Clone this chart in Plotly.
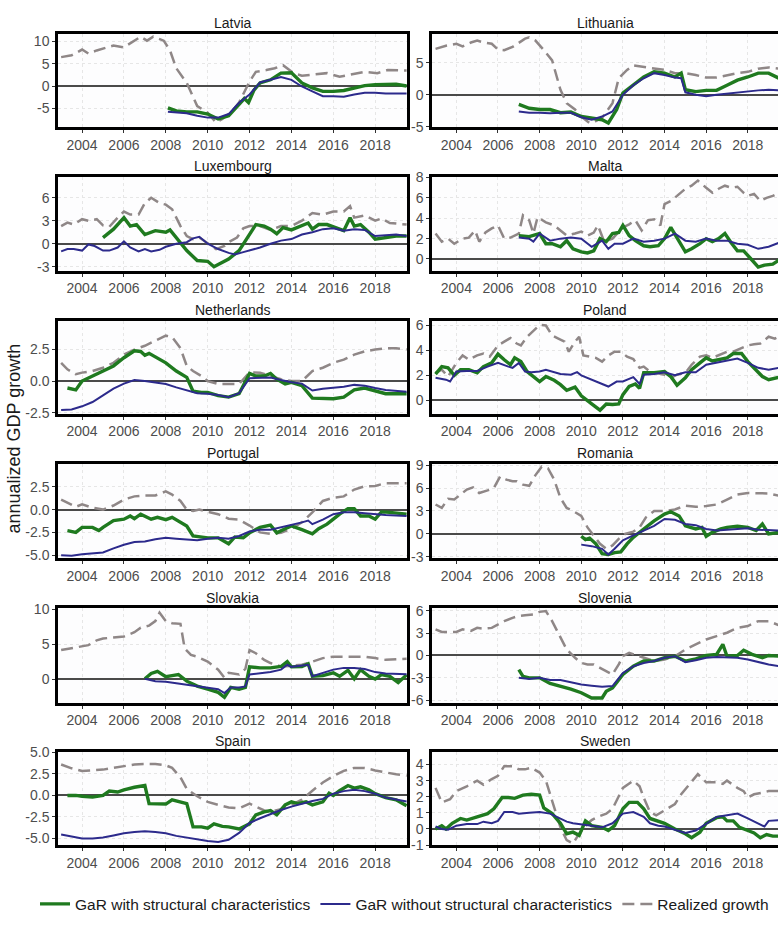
import plotly.graph_objects as go

# ---------------- data (year, annualized GDP growth) ----------------
LATVIA_REAL = [(2003.0, 6.5), (2003.5, 6.9), (2004.0, 8.2), (2004.3, 7.3), (2004.7, 8.0), (2005.0, 8.4), (2005.5, 9.1), (2006.0, 8.7), (2006.8, 11.1), (2007.1, 10.2), (2007.4, 11.1), (2007.9, 10.2), (2008.2, 8.0), (2008.5, 4.0), (2009.0, 0.7), (2009.5, -4.5), (2010.0, -6.0), (2010.4, -8.2), (2010.7, -7.4), (2011.1, -6.0), (2011.5, -3.7), (2012.0, 1.0), (2012.3, 3.2), (2012.8, 3.6), (2013.2, 4.0), (2013.6, 4.7), (2014.1, 2.9), (2014.5, 2.3), (2015.0, 2.5), (2015.7, 2.9), (2016.3, 2.1), (2016.8, 2.5), (2017.5, 3.2), (2018.1, 2.9), (2018.6, 3.6), (2019.5, 3.5)]
LATVIA_GAR_WITH = [(2008.1, -4.9), (2008.5, -5.6), (2009.0, -5.8), (2009.5, -5.8), (2010.0, -6.3), (2010.5, -7.4), (2011.0, -6.7), (2011.5, -4.1), (2011.75, -2.8), (2011.95, -3.7), (2012.2, -1.0), (2012.5, 0.7), (2013.0, 1.4), (2013.5, 2.9), (2014.0, 3.0), (2014.5, 0.7), (2015.0, -0.4), (2015.5, -1.2), (2016.0, -1.2), (2016.5, -1.0), (2017.0, -0.4), (2017.5, 0.1), (2018.0, 0.3), (2018.5, 0.3), (2019.0, 0.4), (2019.5, 0.0)]
LATVIA_GAR_WITHOUT = [(2008.1, -5.8), (2008.5, -6.0), (2009.0, -6.1), (2009.5, -6.7), (2010.0, -7.1), (2010.5, -7.1), (2011.0, -6.3), (2011.5, -3.75), (2012.0, -1.9), (2012.5, 0.8), (2013.0, 1.4), (2013.5, 2.0), (2014.0, 1.4), (2014.5, -0.1), (2015.0, -1.2), (2015.5, -2.3), (2016.0, -2.3), (2016.5, -2.4), (2017.0, -1.9), (2017.5, -1.5), (2018.0, -1.5), (2018.5, -1.7), (2019.5, -1.7)]

LITHUANIA_REAL = [(2003.0, 7.2), (2003.5, 7.7), (2004.0, 8.0), (2004.3, 7.6), (2004.7, 8.2), (2005.0, 8.5), (2005.3, 8.2), (2005.7, 8.0), (2006.0, 7.1), (2006.3, 7.0), (2006.7, 7.5), (2007.0, 8.2), (2007.3, 8.8), (2007.5, 9.0), (2007.8, 8.5), (2008.2, 7.0), (2008.6, 5.4), (2009.0, 0.8), (2009.3, -1.3), (2009.7, -2.3), (2010.0, -3.4), (2010.4, -4.4), (2010.7, -4.1), (2011.0, -3.6), (2011.5, -1.3), (2011.8, 2.6), (2012.2, 3.9), (2012.5, 4.6), (2013.0, 4.4), (2013.5, 4.1), (2014.0, 3.9), (2014.5, 3.4), (2015.0, 3.4), (2015.5, 3.1), (2016.0, 2.7), (2016.5, 2.7), (2017.0, 3.1), (2017.5, 3.4), (2018.0, 3.6), (2018.5, 4.1), (2019.0, 4.3), (2019.5, 4.1)]
LITHUANIA_GAR_WITH = [(2007.0, -1.5), (2007.5, -2.1), (2008.0, -2.3), (2008.5, -2.3), (2009.0, -2.8), (2009.5, -2.7), (2010.0, -3.4), (2010.5, -3.6), (2011.0, -3.9), (2011.3, -4.4), (2011.7, -2.3), (2012.0, 0.3), (2012.5, 1.5), (2013.0, 2.8), (2013.5, 3.6), (2014.0, 3.4), (2014.5, 2.8), (2014.8, 3.4), (2015.0, 0.8), (2015.5, 0.5), (2016.0, 0.7), (2016.5, 0.7), (2017.0, 1.5), (2017.5, 2.3), (2018.0, 2.8), (2018.5, 3.4), (2019.0, 3.4), (2019.5, 2.6)]
LITHUANIA_GAR_WITHOUT = [(2007.0, -2.6), (2007.5, -2.8), (2008.0, -2.8), (2008.5, -2.9), (2009.0, -2.8), (2009.5, -2.8), (2010.0, -3.5), (2010.5, -3.9), (2011.0, -3.4), (2011.5, -2.6), (2012.0, 0.0), (2012.5, 1.5), (2013.0, 2.6), (2013.5, 3.4), (2014.0, 3.1), (2014.5, 2.7), (2014.8, 2.6), (2015.0, 0.4), (2015.5, 0.0), (2016.0, -0.2), (2016.5, 0.0), (2017.0, 0.2), (2017.5, 0.4), (2018.0, 0.5), (2018.5, 0.7), (2019.0, 0.8), (2019.5, 0.7)]

LUXEMBOURG_REAL = [(2003.0, 2.3), (2003.3, 2.75), (2003.6, 2.5), (2004.0, 3.2), (2004.3, 3.0), (2004.7, 3.2), (2005.0, 2.4), (2005.3, 2.2), (2005.7, 3.4), (2006.0, 4.2), (2006.3, 3.8), (2006.7, 3.8), (2007.0, 5.3), (2007.3, 6.0), (2007.7, 5.3), (2008.0, 5.1), (2008.3, 4.5), (2008.7, 2.3), (2009.0, 1.0), (2009.3, 0.6), (2009.6, 0.8), (2010.0, 0.0), (2010.4, -0.7), (2010.8, -0.3), (2011.0, 0.2), (2011.4, 0.8), (2011.7, 2.0), (2012.0, 2.3), (2012.5, 2.3), (2013.0, 1.8), (2013.5, 2.3), (2014.0, 2.3), (2014.5, 3.0), (2015.0, 4.0), (2015.5, 3.8), (2016.0, 4.2), (2016.5, 4.2), (2016.8, 4.9), (2017.0, 3.4), (2017.5, 3.7), (2018.0, 3.0), (2018.3, 3.3), (2018.7, 2.7), (2019.5, 2.5)]
LUXEMBOURG_GAR_WITH = [(2005.0, 0.8), (2005.5, 1.9), (2006.0, 3.4), (2006.3, 2.3), (2006.6, 2.5), (2007.0, 1.2), (2007.5, 1.7), (2008.0, 1.5), (2008.2, 1.8), (2008.6, 0.4), (2009.0, -0.9), (2009.5, -2.2), (2010.0, -2.3), (2010.3, -3.0), (2010.6, -2.6), (2011.0, -2.0), (2011.5, -0.9), (2012.0, 1.2), (2012.3, 2.5), (2012.7, 2.3), (2013.0, 1.9), (2013.3, 1.3), (2013.6, 2.1), (2014.0, 1.8), (2014.4, 2.3), (2014.8, 2.7), (2015.0, 1.9), (2015.3, 2.5), (2015.7, 2.5), (2016.0, 2.2), (2016.5, 1.7), (2016.8, 3.4), (2017.0, 2.3), (2017.3, 2.5), (2017.7, 1.5), (2018.0, 0.6), (2018.5, 0.8), (2019.0, 1.0), (2019.5, 1.0)]
LUXEMBOURG_GAR_WITHOUT = [(2003.0, -1.0), (2003.3, -0.7), (2003.6, -0.7), (2004.0, -0.9), (2004.3, -0.1), (2004.6, -0.3), (2005.0, -0.9), (2005.3, -0.9), (2005.7, -0.5), (2006.0, 0.3), (2006.3, -0.5), (2006.7, -1.0), (2007.0, -0.7), (2007.3, -1.0), (2007.7, -0.8), (2008.0, -0.4), (2008.5, 0.0), (2009.0, 0.2), (2009.3, 0.7), (2009.6, 0.9), (2010.0, 0.0), (2010.5, -0.7), (2011.0, -1.2), (2011.3, -1.4), (2011.7, -1.1), (2012.0, -0.9), (2012.5, -0.5), (2013.0, 0.0), (2013.5, 0.4), (2014.0, 0.6), (2014.5, 1.2), (2015.0, 1.5), (2015.5, 1.9), (2016.0, 2.0), (2016.5, 1.7), (2017.0, 1.9), (2017.5, 1.8), (2018.0, 1.0), (2018.5, 1.1), (2019.0, 1.2), (2019.5, 1.0)]

MALTA_REAL = [(2003.0, 2.5), (2003.3, 1.7), (2003.6, 2.0), (2003.9, 1.5), (2004.3, 2.0), (2004.6, 2.1), (2004.9, 2.8), (2005.1, 1.7), (2005.4, 2.6), (2005.7, 3.0), (2006.0, 3.3), (2006.3, 2.0), (2006.6, 2.1), (2007.0, 2.5), (2007.2, 4.3), (2007.5, 3.8), (2007.7, 2.5), (2007.9, 4.1), (2008.3, 3.6), (2008.7, 3.3), (2009.0, 2.8), (2009.3, 2.3), (2009.7, 2.5), (2010.0, 2.7), (2010.3, 2.3), (2010.6, 2.6), (2010.8, 3.3), (2011.1, 1.7), (2011.5, 2.0), (2012.0, 3.1), (2012.3, 3.4), (2012.6, 3.8), (2012.9, 2.8), (2013.2, 3.8), (2013.5, 3.9), (2013.8, 3.3), (2014.0, 5.4), (2014.3, 5.7), (2014.6, 6.2), (2015.0, 6.9), (2015.3, 7.2), (2015.6, 7.7), (2016.0, 7.0), (2016.3, 6.5), (2016.6, 6.9), (2016.9, 7.2), (2017.2, 7.0), (2017.5, 7.1), (2017.8, 6.5), (2018.0, 6.2), (2018.3, 6.4), (2018.6, 5.7), (2018.9, 6.0), (2019.2, 6.2), (2019.5, 6.5)]
MALTA_GAR_WITH = [(2007.0, 2.3), (2007.5, 2.2), (2008.0, 2.5), (2008.3, 1.5), (2008.6, 1.5), (2009.0, 1.2), (2009.3, 1.8), (2009.6, 1.0), (2010.0, 0.7), (2010.3, 0.6), (2010.6, 0.8), (2010.9, 2.0), (2011.2, 1.7), (2011.5, 2.5), (2011.8, 2.6), (2012.0, 3.3), (2012.3, 2.3), (2012.6, 1.8), (2013.0, 1.3), (2013.3, 1.2), (2013.7, 1.3), (2014.0, 2.0), (2014.3, 3.1), (2014.6, 2.0), (2015.0, 0.7), (2015.3, 1.0), (2015.7, 1.5), (2016.0, 2.0), (2016.3, 1.7), (2016.6, 2.0), (2016.9, 2.5), (2017.2, 1.6), (2017.5, 0.8), (2017.8, 0.8), (2018.0, 0.4), (2018.2, -0.1), (2018.5, -0.8), (2018.8, -0.6), (2019.2, -0.5), (2019.5, -0.1)]
MALTA_GAR_WITHOUT = [(2007.0, 2.1), (2007.5, 2.0), (2007.7, 1.7), (2008.0, 2.5), (2008.5, 1.8), (2009.0, 2.0), (2009.5, 2.1), (2010.0, 2.0), (2010.5, 1.2), (2011.0, 1.8), (2011.3, 1.0), (2011.6, 1.5), (2012.0, 1.5), (2012.5, 2.0), (2013.0, 1.7), (2013.5, 1.8), (2014.0, 2.0), (2014.5, 2.5), (2015.0, 1.8), (2015.5, 1.7), (2016.0, 2.0), (2016.5, 1.8), (2017.0, 1.8), (2017.5, 1.5), (2018.0, 1.4), (2018.5, 1.0), (2019.0, 1.2), (2019.5, 1.6)]

NETHERLANDS_REAL = [(2003.0, 1.45), (2003.3, 0.93), (2003.7, 0.54), (2004.0, 0.67), (2004.5, 0.8), (2005.0, 1.06), (2005.5, 1.45), (2006.0, 2.1), (2006.5, 2.5), (2007.0, 2.8), (2007.5, 3.2), (2008.0, 3.6), (2008.3, 3.5), (2008.7, 2.6), (2009.0, 1.2), (2009.3, 0.8), (2009.7, 0.4), (2010.0, 0.0), (2010.5, -0.23), (2011.0, -0.23), (2011.5, -0.23), (2012.0, 0.7), (2012.5, 0.67), (2013.0, 0.4), (2013.5, 0.15), (2014.0, 0.0), (2014.5, 0.0), (2015.0, 0.8), (2015.5, 1.06), (2016.0, 1.45), (2016.5, 1.7), (2017.0, 2.1), (2017.5, 2.36), (2018.0, 2.5), (2018.5, 2.6), (2019.0, 2.6), (2019.5, 2.5)]
NETHERLANDS_GAR_WITH = [(2003.3, -0.55), (2003.7, -0.7), (2004.0, 0.0), (2004.5, 0.4), (2005.0, 0.85), (2005.5, 1.2), (2006.0, 1.85), (2006.5, 2.4), (2006.8, 2.35), (2007.0, 2.05), (2007.2, 2.2), (2007.5, 1.9), (2008.0, 1.45), (2008.5, 0.8), (2009.0, 0.3), (2009.3, -0.8), (2009.7, -0.9), (2010.0, -0.9), (2010.5, -1.15), (2011.0, -1.27), (2011.5, -1.0), (2012.0, 0.6), (2012.3, 0.4), (2012.7, 0.4), (2013.0, 0.6), (2013.3, 0.15), (2013.7, -0.23), (2014.0, -0.1), (2014.5, -0.36), (2015.0, -1.35), (2015.5, -1.35), (2016.0, -1.4), (2016.5, -1.27), (2017.0, -0.7), (2017.5, -0.55), (2018.0, -0.8), (2018.5, -1.0), (2019.5, -1.0)]
NETHERLANDS_GAR_WITHOUT = [(2003.0, -2.3), (2003.5, -2.25), (2004.0, -2.0), (2004.5, -1.66), (2005.0, -1.14), (2005.5, -0.6), (2006.0, -0.2), (2006.5, 0.08), (2007.0, 0.0), (2007.5, -0.1), (2008.0, -0.23), (2008.5, -0.5), (2009.0, -0.7), (2009.5, -0.96), (2010.0, -1.0), (2010.5, -1.1), (2011.0, -1.27), (2011.5, -0.96), (2012.0, 0.23), (2012.5, 0.28), (2013.0, 0.28), (2013.5, 0.08), (2014.0, -0.1), (2014.5, -0.2), (2015.0, -0.75), (2015.5, -0.6), (2016.0, -0.55), (2016.5, -0.45), (2017.0, -0.3), (2017.5, -0.36), (2018.0, -0.55), (2018.5, -0.7), (2019.5, -0.85)]

POLAND_REAL = [(2003.0, 2.2), (2003.3, 2.45), (2003.6, 1.9), (2004.0, 3.0), (2004.3, 3.6), (2004.6, 3.25), (2005.0, 3.6), (2005.3, 3.75), (2005.6, 3.5), (2006.0, 4.4), (2006.3, 4.7), (2006.6, 5.0), (2006.9, 4.55), (2007.1, 4.4), (2007.4, 5.1), (2007.7, 5.6), (2008.0, 6.05), (2008.3, 6.0), (2008.6, 5.2), (2008.9, 4.95), (2009.2, 4.7), (2009.4, 3.9), (2009.7, 4.7), (2009.9, 5.1), (2010.1, 3.6), (2010.4, 3.5), (2010.7, 3.4), (2011.0, 3.1), (2011.3, 3.6), (2011.6, 3.9), (2011.9, 3.9), (2012.2, 3.5), (2012.5, 3.3), (2012.8, 2.6), (2013.0, 2.7), (2013.3, 2.3), (2013.6, 2.2), (2014.0, 2.05), (2014.3, 1.8), (2014.6, 2.05), (2015.0, 2.2), (2015.3, 2.85), (2015.7, 3.5), (2016.0, 3.6), (2016.3, 3.4), (2016.6, 3.6), (2017.0, 3.9), (2017.3, 3.9), (2017.7, 4.15), (2018.0, 4.4), (2018.3, 4.5), (2018.6, 4.55), (2019.0, 5.1), (2019.3, 4.95), (2019.5, 5.1)]
POLAND_GAR_WITH = [(2003.0, 2.1), (2003.3, 2.7), (2003.6, 2.6), (2003.9, 2.0), (2004.2, 2.45), (2004.6, 2.45), (2005.0, 2.2), (2005.3, 2.7), (2005.7, 3.0), (2006.0, 3.7), (2006.3, 3.25), (2006.6, 2.85), (2006.8, 3.4), (2007.1, 3.1), (2007.4, 2.3), (2007.8, 1.8), (2008.0, 1.5), (2008.3, 1.9), (2008.7, 1.6), (2009.0, 1.25), (2009.3, 0.8), (2009.7, 1.05), (2010.0, 0.35), (2010.5, -0.3), (2010.9, -0.8), (2011.2, -0.3), (2011.5, -0.35), (2011.8, -0.3), (2012.0, 0.45), (2012.3, 1.1), (2012.6, 1.3), (2012.8, 0.95), (2013.0, 2.2), (2013.5, 2.2), (2014.0, 2.3), (2014.3, 1.9), (2014.6, 1.2), (2015.0, 1.8), (2015.3, 2.45), (2015.7, 3.0), (2016.0, 3.4), (2016.3, 3.15), (2016.6, 3.25), (2017.0, 3.4), (2017.3, 3.75), (2017.7, 3.75), (2018.0, 3.1), (2018.3, 2.6), (2018.7, 1.9), (2019.0, 1.65), (2019.5, 1.85)]
POLAND_GAR_WITHOUT = [(2003.0, 1.8), (2003.5, 1.65), (2003.7, 1.5), (2004.0, 2.3), (2004.5, 2.35), (2005.0, 2.35), (2005.5, 2.7), (2006.0, 3.0), (2006.5, 2.7), (2006.7, 2.6), (2007.0, 3.0), (2007.3, 2.3), (2007.6, 2.25), (2008.0, 2.3), (2008.3, 2.45), (2008.6, 2.3), (2009.0, 2.1), (2009.5, 2.05), (2009.8, 2.25), (2010.0, 2.0), (2010.5, 1.65), (2011.0, 1.25), (2011.3, 1.1), (2011.7, 1.5), (2012.0, 1.5), (2012.5, 1.85), (2012.8, 1.3), (2013.0, 2.05), (2013.5, 2.1), (2014.0, 2.25), (2014.5, 2.0), (2015.0, 2.25), (2015.5, 2.25), (2016.0, 2.85), (2016.5, 3.0), (2017.0, 3.15), (2017.5, 3.35), (2018.0, 3.0), (2018.5, 2.6), (2019.0, 2.45), (2019.5, 2.6)]

PORTUGAL_REAL = [(2003.0, 1.1), (2003.3, 0.75), (2003.7, 0.3), (2004.0, 0.57), (2004.5, 0.2), (2005.0, 0.0), (2005.5, 0.45), (2006.0, 1.1), (2006.5, 1.45), (2007.0, 1.55), (2007.5, 1.55), (2008.0, 2.0), (2008.3, 1.65), (2008.7, 0.95), (2009.0, 0.0), (2009.3, -0.15), (2009.6, 0.0), (2010.0, -0.25), (2010.5, -0.5), (2011.0, -1.0), (2011.5, -1.1), (2012.0, -1.75), (2012.5, -2.5), (2013.0, -2.65), (2013.5, -2.55), (2014.0, -2.1), (2014.5, -1.4), (2015.0, -0.3), (2015.5, 0.95), (2016.0, 1.3), (2016.5, 1.45), (2017.0, 2.2), (2017.5, 2.55), (2018.0, 2.6), (2018.5, 2.9), (2019.5, 2.9)]
PORTUGAL_GAR_WITH = [(2003.3, -2.3), (2003.7, -2.5), (2004.0, -1.95), (2004.5, -1.95), (2004.8, -2.3), (2005.0, -1.95), (2005.5, -1.2), (2006.0, -1.05), (2006.3, -0.7), (2006.5, -1.0), (2006.8, -0.5), (2007.0, -0.7), (2007.3, -1.05), (2007.6, -0.85), (2008.0, -1.1), (2008.3, -0.85), (2008.7, -1.4), (2009.0, -1.8), (2009.3, -2.9), (2009.7, -3.0), (2010.0, -3.1), (2010.5, -3.1), (2010.8, -3.5), (2011.0, -3.75), (2011.3, -3.0), (2011.7, -3.1), (2012.0, -2.55), (2012.5, -1.95), (2013.0, -1.7), (2013.3, -2.55), (2013.7, -2.1), (2014.0, -1.8), (2014.5, -2.2), (2015.0, -2.65), (2015.3, -2.1), (2015.7, -1.6), (2016.0, -1.05), (2016.3, -0.5), (2016.7, 0.1), (2017.0, 0.1), (2017.3, -0.7), (2017.7, -0.7), (2018.0, -1.05), (2018.3, -0.25), (2018.7, -0.3), (2019.5, -0.5)]
PORTUGAL_GAR_WITHOUT = [(2003.0, -5.0), (2003.5, -5.05), (2004.0, -4.9), (2004.5, -4.8), (2005.0, -4.7), (2005.5, -4.25), (2006.0, -3.85), (2006.5, -3.55), (2007.0, -3.5), (2007.5, -3.25), (2008.0, -3.1), (2008.5, -3.2), (2009.0, -3.25), (2009.5, -3.35), (2010.0, -3.2), (2010.5, -3.1), (2011.0, -3.2), (2011.5, -2.9), (2012.0, -2.4), (2012.5, -2.2), (2013.0, -2.2), (2013.5, -1.95), (2014.0, -1.7), (2014.5, -1.4), (2014.8, -1.2), (2015.0, -1.6), (2015.5, -1.1), (2016.0, -0.5), (2016.5, -0.3), (2017.0, -0.3), (2017.5, -0.4), (2018.0, -0.5), (2018.5, -0.6), (2019.5, -0.7)]

ROMANIA_REAL = [(2003.0, 3.85), (2003.3, 3.4), (2003.6, 4.6), (2003.9, 4.5), (2004.2, 5.15), (2004.5, 5.8), (2004.8, 6.1), (2005.1, 5.35), (2005.5, 5.7), (2005.8, 6.0), (2006.1, 7.5), (2006.4, 7.1), (2006.7, 6.9), (2006.9, 6.9), (2007.2, 6.45), (2007.5, 6.3), (2007.8, 7.7), (2008.1, 8.8), (2008.4, 8.6), (2008.7, 7.1), (2009.0, 4.7), (2009.3, 3.4), (2009.6, 3.0), (2010.0, 2.35), (2010.3, 0.85), (2010.6, -0.3), (2010.9, -1.3), (2011.2, -1.95), (2011.5, -1.5), (2011.8, -0.65), (2012.1, 0.0), (2012.5, 0.3), (2012.8, 0.85), (2013.1, 2.15), (2013.5, 3.0), (2014.0, 3.0), (2014.5, 3.2), (2015.0, 3.7), (2015.5, 3.55), (2016.0, 3.65), (2016.5, 3.85), (2017.0, 4.5), (2017.5, 5.15), (2018.0, 5.35), (2018.5, 5.35), (2019.0, 5.3), (2019.5, 5.0)]
ROMANIA_GAR_WITH = [(2010.0, -0.3), (2010.2, -0.75), (2010.4, -0.55), (2010.7, -1.3), (2011.0, -2.6), (2011.3, -2.7), (2011.6, -2.45), (2011.9, -2.35), (2012.2, -1.3), (2012.5, -0.45), (2013.0, 0.65), (2013.5, 1.7), (2014.0, 2.6), (2014.3, 2.9), (2014.7, 2.35), (2015.0, 1.05), (2015.5, 0.65), (2015.8, 0.85), (2016.0, -0.3), (2016.3, 0.2), (2016.7, 0.65), (2017.0, 0.85), (2017.5, 1.0), (2018.0, 0.85), (2018.4, 0.45), (2018.7, 1.3), (2019.0, 0.0), (2019.5, 0.2)]
ROMANIA_GAR_WITHOUT = [(2010.0, -1.4), (2010.5, -1.6), (2011.0, -1.95), (2011.3, -2.7), (2011.6, -1.95), (2012.0, -0.85), (2012.5, -0.2), (2013.0, 0.45), (2013.5, 1.05), (2014.0, 1.95), (2014.5, 1.85), (2015.0, 1.3), (2015.5, 1.15), (2016.0, 0.65), (2016.5, 0.45), (2017.0, 0.55), (2017.5, 0.65), (2018.0, 0.75), (2018.5, 0.55), (2019.0, 0.45), (2019.5, 0.45)]

SLOVAKIA_REAL = [(2003.0, 4.15), (2003.5, 4.4), (2004.0, 4.6), (2004.3, 4.85), (2004.7, 5.55), (2005.0, 5.8), (2005.5, 5.95), (2006.0, 6.1), (2006.5, 6.7), (2006.8, 7.35), (2007.2, 7.65), (2007.5, 8.3), (2007.7, 9.5), (2008.0, 8.3), (2008.3, 8.0), (2008.7, 7.9), (2008.9, 4.4), (2009.2, 3.45), (2009.5, 3.2), (2010.0, 2.5), (2010.5, 1.35), (2010.8, 0.2), (2011.0, 0.9), (2011.5, 0.65), (2011.8, 1.45), (2012.0, 4.15), (2012.3, 3.7), (2012.7, 2.75), (2013.0, 2.3), (2013.5, 1.8), (2014.0, 1.9), (2014.5, 2.05), (2015.0, 2.5), (2015.5, 3.0), (2016.0, 3.2), (2016.5, 3.2), (2017.0, 3.3), (2017.5, 3.2), (2018.0, 3.0), (2018.5, 2.75), (2019.5, 2.9)]
SLOVAKIA_GAR_WITH = [(2007.0, 0.05), (2007.3, 0.8), (2007.6, 1.1), (2008.0, 0.35), (2008.3, 0.5), (2008.6, 0.65), (2009.0, -0.3), (2009.5, -1.0), (2010.0, -1.45), (2010.5, -1.9), (2010.8, -2.6), (2011.1, -1.2), (2011.5, -1.45), (2011.8, -1.2), (2012.0, 1.75), (2012.5, 1.6), (2013.0, 1.6), (2013.5, 1.8), (2013.8, 2.5), (2014.0, 1.75), (2014.5, 1.8), (2014.8, 2.2), (2015.0, 0.4), (2015.5, 0.5), (2016.0, 0.9), (2016.3, 0.4), (2016.7, 1.25), (2017.0, 0.05), (2017.3, 1.35), (2017.7, 0.4), (2018.0, 0.0), (2018.3, 0.65), (2018.7, 0.4), (2019.1, -0.5), (2019.5, 0.6)]
SLOVAKIA_GAR_WITHOUT = [(2007.0, 0.05), (2007.5, -0.3), (2008.0, -0.4), (2008.5, -0.6), (2009.0, -0.9), (2009.5, -1.05), (2010.0, -1.2), (2010.5, -1.45), (2010.8, -2.0), (2011.1, -1.2), (2011.5, -1.2), (2011.8, -1.05), (2012.0, 0.65), (2012.5, 0.8), (2013.0, 1.0), (2013.5, 1.35), (2013.8, 2.05), (2014.0, 1.75), (2014.5, 1.9), (2014.8, 2.05), (2015.0, 0.4), (2015.5, 0.9), (2016.0, 1.35), (2016.5, 1.6), (2017.0, 1.6), (2017.5, 1.45), (2018.0, 1.0), (2018.5, 0.8), (2019.5, 0.7)]

SLOVENIA_REAL = [(2003.0, 3.5), (2003.3, 3.15), (2003.6, 3.15), (2004.0, 3.15), (2004.3, 3.5), (2004.7, 3.3), (2005.0, 3.7), (2005.3, 3.6), (2005.7, 3.7), (2006.0, 4.15), (2006.3, 4.6), (2006.7, 5.05), (2007.0, 5.3), (2007.3, 5.4), (2007.7, 5.5), (2008.0, 5.85), (2008.3, 5.95), (2008.6, 4.6), (2009.0, 2.4), (2009.3, 0.8), (2009.7, -0.3), (2010.0, -1.0), (2010.3, -1.2), (2010.6, -1.2), (2010.9, -1.65), (2011.2, -2.1), (2011.5, -2.55), (2011.8, -1.2), (2012.0, -0.1), (2012.3, 0.35), (2012.7, 0.0), (2013.0, -0.3), (2013.5, -0.75), (2014.0, -0.55), (2014.5, -0.1), (2015.0, 0.8), (2015.5, 1.5), (2016.0, 2.15), (2016.5, 2.6), (2017.0, 3.05), (2017.5, 3.7), (2018.0, 3.95), (2018.5, 4.6), (2019.0, 4.6), (2019.5, 4.05)]
SLOVENIA_GAR_WITH = [(2007.0, -1.9), (2007.2, -2.8), (2007.5, -3.0), (2008.0, -3.0), (2008.5, -3.75), (2009.0, -4.1), (2009.5, -4.5), (2010.0, -5.0), (2010.5, -5.7), (2011.0, -5.7), (2011.2, -4.8), (2011.5, -4.35), (2012.0, -2.55), (2012.5, -1.45), (2013.0, -0.75), (2013.5, -0.75), (2014.0, -0.3), (2014.5, -0.1), (2015.0, -0.75), (2015.5, -0.45), (2016.0, 0.0), (2016.5, 0.15), (2016.8, 1.5), (2017.0, -0.1), (2017.5, 0.0), (2017.8, 0.7), (2018.2, 0.15), (2018.7, -0.3), (2019.0, 0.0), (2019.5, -0.1)]
SLOVENIA_GAR_WITHOUT = [(2007.0, -3.0), (2007.5, -3.15), (2008.0, -3.0), (2008.5, -3.3), (2009.0, -3.3), (2009.5, -3.6), (2010.0, -3.9), (2010.5, -4.05), (2011.0, -4.2), (2011.5, -4.1), (2012.0, -2.35), (2012.5, -1.45), (2013.0, -1.0), (2013.5, -0.75), (2014.0, -0.3), (2014.5, -0.1), (2015.0, -0.9), (2015.5, -0.65), (2016.0, -0.3), (2016.5, -0.2), (2017.0, -0.3), (2017.5, -0.3), (2018.0, -0.55), (2018.5, -0.9), (2019.0, -1.2), (2019.5, -1.45)]

SPAIN_REAL = [(2003.0, 3.6), (2003.5, 3.15), (2004.0, 2.85), (2004.5, 2.9), (2005.0, 3.0), (2005.5, 3.2), (2006.0, 3.4), (2006.5, 3.6), (2007.0, 3.65), (2007.5, 3.65), (2008.0, 3.5), (2008.3, 3.2), (2008.7, 2.1), (2009.0, 0.75), (2009.5, -0.1), (2010.0, -0.75), (2010.5, -1.1), (2011.0, -1.4), (2011.5, -1.5), (2012.0, -0.95), (2012.3, -1.3), (2012.7, -1.75), (2013.0, -1.9), (2013.5, -1.6), (2014.0, -1.1), (2014.5, -0.5), (2015.0, 0.55), (2015.5, 1.5), (2016.0, 2.25), (2016.5, 2.85), (2017.0, 3.2), (2017.5, 3.2), (2018.0, 2.9), (2018.5, 2.65), (2019.0, 2.45), (2019.5, 2.3)]
SPAIN_GAR_WITH = [(2003.3, 0.0), (2003.7, 0.0), (2004.0, -0.1), (2004.5, -0.2), (2005.0, 0.0), (2005.3, 0.5), (2005.7, 0.4), (2006.0, 0.65), (2006.5, 0.95), (2007.0, 1.15), (2007.2, -0.95), (2007.6, -0.95), (2008.0, -1.0), (2008.3, -0.5), (2008.7, -0.75), (2009.0, -0.95), (2009.3, -3.65), (2009.7, -3.65), (2010.0, -3.8), (2010.3, -3.3), (2010.7, -3.6), (2011.0, -3.65), (2011.5, -3.9), (2012.0, -3.3), (2012.3, -2.25), (2012.7, -1.9), (2013.0, -1.75), (2013.3, -2.25), (2013.7, -1.1), (2014.0, -0.75), (2014.3, -0.95), (2014.7, -0.75), (2015.0, -1.1), (2015.5, -0.75), (2015.8, 0.25), (2016.0, 0.0), (2016.3, 0.55), (2016.7, 1.15), (2017.0, 0.85), (2017.3, 1.0), (2017.7, 0.65), (2018.0, 0.2), (2018.5, -0.25), (2019.0, -0.5), (2019.5, -1.2)]
SPAIN_GAR_WITHOUT = [(2003.0, -4.55), (2003.5, -4.8), (2004.0, -5.0), (2004.5, -5.0), (2005.0, -4.9), (2005.5, -4.65), (2006.0, -4.4), (2006.5, -4.25), (2007.0, -4.15), (2007.5, -4.25), (2008.0, -4.4), (2008.5, -4.7), (2009.0, -4.9), (2009.5, -5.15), (2010.0, -5.3), (2010.5, -5.4), (2011.0, -5.15), (2011.5, -4.35), (2012.0, -3.2), (2012.5, -2.65), (2013.0, -2.15), (2013.5, -1.7), (2014.0, -1.3), (2014.5, -0.95), (2015.0, -0.65), (2015.5, -0.4), (2016.0, 0.2), (2016.5, 0.5), (2017.0, 0.65), (2017.5, 0.5), (2018.0, 0.2), (2018.5, -0.25), (2019.5, -0.7)]

SWEDEN_REAL = [(2003.0, 2.55), (2003.3, 1.65), (2003.7, 1.85), (2004.0, 2.35), (2004.5, 2.65), (2005.0, 3.0), (2005.3, 2.75), (2005.7, 3.1), (2006.0, 3.3), (2006.3, 3.9), (2006.7, 3.9), (2007.0, 3.7), (2007.3, 3.7), (2007.6, 3.8), (2008.0, 3.5), (2008.3, 3.0), (2008.6, 1.75), (2009.0, 0.1), (2009.3, -0.7), (2009.6, -0.9), (2009.9, -0.3), (2010.2, 0.2), (2010.5, 0.55), (2010.8, 0.75), (2011.2, 0.95), (2011.5, 1.25), (2012.0, 2.55), (2012.5, 3.0), (2012.8, 2.65), (2013.0, 1.95), (2013.3, 1.05), (2013.6, 0.85), (2014.0, 1.15), (2014.5, 1.55), (2014.8, 2.15), (2015.0, 2.45), (2015.3, 2.9), (2015.6, 3.4), (2016.0, 2.9), (2016.5, 2.9), (2016.8, 2.8), (2017.0, 3.0), (2017.5, 2.55), (2017.8, 2.35), (2018.0, 1.95), (2018.3, 2.15), (2018.7, 2.25), (2019.0, 2.35), (2019.5, 2.35)]
SWEDEN_GAR_WITH = [(2003.0, 0.0), (2003.3, 0.2), (2003.5, 0.0), (2003.8, 0.35), (2004.2, 0.65), (2004.5, 0.55), (2005.0, 0.75), (2005.5, 0.95), (2005.8, 1.25), (2006.2, 1.95), (2006.5, 1.95), (2006.8, 1.9), (2007.2, 2.1), (2007.6, 2.15), (2008.0, 2.1), (2008.2, 1.3), (2008.6, 0.95), (2009.0, 0.35), (2009.3, -0.3), (2009.6, -0.2), (2009.9, -0.4), (2010.2, 0.5), (2010.5, 0.2), (2011.0, 0.1), (2011.3, -0.1), (2011.6, 0.2), (2012.0, 1.25), (2012.3, 1.65), (2012.7, 1.65), (2013.0, 1.25), (2013.3, 0.65), (2013.7, 0.5), (2014.0, 0.35), (2014.5, 0.0), (2015.0, -0.3), (2015.3, -0.55), (2015.7, -0.2), (2016.0, 0.35), (2016.5, 0.7), (2016.8, 0.75), (2017.0, 0.5), (2017.3, 0.5), (2017.6, 0.1), (2018.0, -0.1), (2018.3, -0.25), (2018.6, -0.55), (2018.9, -0.35), (2019.2, -0.45), (2019.5, -0.45)]
SWEDEN_GAR_WITHOUT = [(2003.0, 0.15), (2003.3, 0.0), (2003.6, -0.05), (2004.0, 0.2), (2004.5, 0.3), (2005.0, 0.3), (2005.3, 0.45), (2005.7, 0.35), (2006.0, 0.5), (2006.3, 1.05), (2006.7, 1.05), (2007.0, 0.95), (2007.5, 1.0), (2008.0, 1.05), (2008.5, 0.95), (2009.0, 0.65), (2009.3, 0.45), (2009.6, 0.35), (2010.0, 0.3), (2010.5, 0.2), (2011.0, 0.1), (2011.5, 0.35), (2012.0, 0.95), (2012.5, 1.05), (2013.0, 0.75), (2013.3, 0.35), (2013.7, 0.2), (2014.0, 0.15), (2014.5, -0.05), (2015.0, -0.25), (2015.5, -0.1), (2016.0, 0.3), (2016.5, 0.75), (2017.0, 0.85), (2017.5, 0.95), (2018.0, 0.65), (2018.5, 0.35), (2018.8, 0.15), (2019.0, 0.5), (2019.5, 0.55)]

COUNTRIES = ["Latvia", "Lithuania", "Luxembourg", "Malta", "Netherlands", "Poland",
             "Portugal", "Romania", "Slovakia", "Slovenia", "Spain", "Sweden"]

SERIES_NAMES = ["GaR with structural characteristics",
                "GaR without structural characteristics",
                "Realized growth"]

X_TICKS = [2004, 2006, 2008, 2010, 2012, 2014, 2016, 2018]
X_TICK_LABELS = ["2004", "2006", "2008", "2010", "2012", "2014", "2016", "2018"]

Y_TICKS = {
    "Latvia": ([-5, 0, 5, 10], ["-5", "0", "5", "10"]),
    "Lithuania": ([-5, 0, 5], ["-5", "0", "5"]),
    "Luxembourg": ([-3, 0, 3, 6], ["-3", "0", "3", "6"]),
    "Malta": ([0, 2, 4, 6, 8], ["0", "2", "4", "6", "8"]),
    "Netherlands": ([-2.5, 0, 2.5], ["-2.5", "0.0", "2.5"]),
    "Poland": ([0, 2, 4, 6], ["0", "2", "4", "6"]),
    "Portugal": ([-5, -2.5, 0, 2.5], ["-5.0", "-2.5", "0.0", "2.5"]),
    "Romania": ([-3, 0, 3, 6, 9], ["-3", "0", "3", "6", "9"]),
    "Slovakia": ([0, 5, 10], ["0", "5", "10"]),
    "Slovenia": ([-6, -3, 0, 3, 6], ["-6", "-3", "0", "3", "6"]),
    "Spain": ([-5, -2.5, 0, 2.5, 5], ["-5.0", "-2.5", "0.0", "2.5", "5.0"]),
    "Sweden": ([-1, 0, 1, 2, 3, 4], ["-1", "0", "1", "2", "3", "4"]),
}

Y_RANGES = {
    "Latvia": [-9.3, 11.8], "Lithuania": [-5.1, 9.6], "Luxembourg": [-3.55, 8.7],
    "Malta": [-1.17, 8.05], "Netherlands": [-2.6, 4.8], "Poland": [-1.1, 6.4],
    "Portugal": [-5.35, 5.0], "Romania": [-3.2, 9.15], "Slovakia": [-3.4, 10.1],
    "Slovenia": [-6.35, 6.3], "Spain": [-5.8, 5.05], "Sweden": [-1.02, 4.78],
}

DATA = {
    "Latvia": (LATVIA_GAR_WITH, LATVIA_GAR_WITHOUT, LATVIA_REAL),
    "Lithuania": (LITHUANIA_GAR_WITH, LITHUANIA_GAR_WITHOUT, LITHUANIA_REAL),
    "Luxembourg": (LUXEMBOURG_GAR_WITH, LUXEMBOURG_GAR_WITHOUT, LUXEMBOURG_REAL),
    "Malta": (MALTA_GAR_WITH, MALTA_GAR_WITHOUT, MALTA_REAL),
    "Netherlands": (NETHERLANDS_GAR_WITH, NETHERLANDS_GAR_WITHOUT, NETHERLANDS_REAL),
    "Poland": (POLAND_GAR_WITH, POLAND_GAR_WITHOUT, POLAND_REAL),
    "Portugal": (PORTUGAL_GAR_WITH, PORTUGAL_GAR_WITHOUT, PORTUGAL_REAL),
    "Romania": (ROMANIA_GAR_WITH, ROMANIA_GAR_WITHOUT, ROMANIA_REAL),
    "Slovakia": (SLOVAKIA_GAR_WITH, SLOVAKIA_GAR_WITHOUT, SLOVAKIA_REAL),
    "Slovenia": (SLOVENIA_GAR_WITH, SLOVENIA_GAR_WITHOUT, SLOVENIA_REAL),
    "Spain": (SPAIN_GAR_WITH, SPAIN_GAR_WITHOUT, SPAIN_REAL),
    "Sweden": (SWEDEN_GAR_WITH, SWEDEN_GAR_WITHOUT, SWEDEN_REAL),
}

# ---------------- styling / layout ----------------
W, H = 778, 930
FONT = "Liberation Sans, Arial, sans-serif"
GREEN, BLUE, GRAY = "#1f7a1f", "#2c2a8c", "#8f8787"

ROW_TOP = [26, 172, 318, 464, 611, 757]
ROW_BOT = [121.5, 267.5, 413, 560, 707, 852]
COL_X = [(58, 407), (432, 778)]
COL_XRANGE = [[2002.85, 2019.52], [2002.83, 2019.45]]

fig = go.Figure()
layout = dict(
    width=W, height=H,
    margin=dict(l=0, r=0, t=0, b=0),
    paper_bgcolor="white", plot_bgcolor="#fdfdfe",
    font=dict(family=FONT, size=14, color="#4d4d4d"),
    showlegend=True,
    legend=dict(orientation="h", x=0.045, xanchor="left", y=1 - 912 / H, yanchor="middle",
                font=dict(family=FONT, size=15.5, color="#1a1a1a"),
                itemwidth=30, tracegroupgap=0, bgcolor="rgba(0,0,0,0)"),
    annotations=[],
)

for i, country in enumerate(COUNTRIES):
    row, col = divmod(i, 2)
    sfx = "" if i == 0 else str(i + 1)
    x0, x1 = COL_X[col]
    xd = [x0 / W, min(x1 / W, 1.0)]
    yd = [1 - ROW_BOT[row] / H, 1 - ROW_TOP[row] / H]
    tv, tt = Y_TICKS[country]
    layout["xaxis" + sfx] = dict(
        domain=xd, anchor="y" + sfx, range=COL_XRANGE[col],
        tickvals=X_TICKS, ticktext=X_TICK_LABELS,
        ticks="outside", ticklen=3, tickcolor="#333", tickwidth=1,
        showline=True, linecolor="black", linewidth=2.5, mirror=True,
        showgrid=True, gridcolor="#e6e6e6", griddash="dot", gridwidth=1,
        zeroline=False, tickfont=dict(size=14, color="#4d4d4d"),
    )
    layout["yaxis" + sfx] = dict(
        domain=yd, anchor="x" + sfx, range=Y_RANGES[country],
        tickvals=tv, ticktext=tt,
        ticks="outside", ticklen=3, tickcolor="#333", tickwidth=1,
        showline=True, linecolor="black", linewidth=2.5, mirror=(col == 0),
        showgrid=True, gridcolor="#e6e6e6", griddash="dot", gridwidth=1,
        zeroline=True, zerolinecolor="#4a4a4a", zerolinewidth=1.5,
        tickfont=dict(size=14, color="#4d4d4d"),
    )
    layout["annotations"].append(dict(
        text=country, xref="paper", yref="paper",
        x=(xd[0] + xd[1]) / 2, y=1 - (ROW_TOP[row] - 11) / H,
        xanchor="center", yanchor="middle", showarrow=False,
        font=dict(family=FONT, size=14, color="#1a1a1a"),
    ))

    gar_with, gar_without, real = DATA[country]
    styles = [
        (real, SERIES_NAMES[2], dict(color=GRAY, width=2.5, dash="12px,6px"), 3),
        (gar_with, SERIES_NAMES[0], dict(color=GREEN, width=3.4), 1),
        (gar_without, SERIES_NAMES[1], dict(color=BLUE, width=2), 2),
    ]
    for pts, name, line, rank in styles:
        fig.add_trace(go.Scatter(
            x=[p[0] for p in pts], y=[p[1] for p in pts],
            mode="lines", name=name, line=line,
            legendgroup=name, legendrank=rank, showlegend=(i == 0),
            xaxis="x" + sfx, yaxis="y" + sfx, hoverinfo="skip",
        ))

layout["annotations"].append(dict(
    text="annualized GDP growth", xref="paper", yref="paper",
    x=14 / W, y=1 - 438 / H, xanchor="center", yanchor="middle",
    textangle=-90, showarrow=False,
    font=dict(family=FONT, size=18, color="#1a1a1a"),
))

fig.update_layout(**layout)
# remove the browser's default 8px body margin so the figure sits at the page origin
fig.write_html("out.html", config={"displayModeBar": False},
               post_script="document.body.style.margin='0';")
